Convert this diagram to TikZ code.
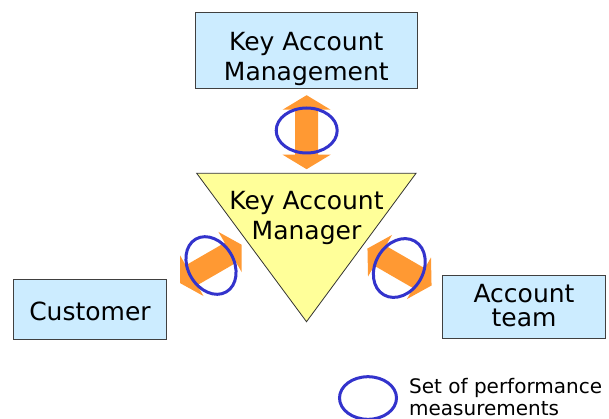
\documentclass[tikz,border=0pt]{standalone}
\usepackage{fontspec}
\setmainfont{DejaVu Sans}
\definecolor{boxblue}{HTML}{CCECFF}
\definecolor{mgryellow}{HTML}{FFFF99}
\definecolor{arroworange}{HTML}{FF9933}
\definecolor{measblue}{HTML}{3333CC}
\begin{document}
\begin{tikzpicture}[x=1pt,y=-1pt,
  box/.style={draw=black!75, line width=0.9pt, fill=boxblue, inner sep=0pt},
  bigtext/.style={inner sep=0pt, align=center, font=\fontsize{25}{30}\selectfont},
  meas/.style={draw=measblue, line width=3pt},
  dblarrow/.pic={
    \fill[arroworange] (0,37) -- (24,22.5) -- (11.5,22.5) -- (11.5,-22.5)
      -- (24,-22.5) -- (0,-37) -- (-24,-22.5) -- (-11.5,-22.5)
      -- (-11.5,22.5) -- (-24,22.5) -- cycle;
  }]
\useasboundingbox (0,0) rectangle (609,419);

% boxes
\node[box, minimum width=222.7pt, minimum height=76pt] (kam) at (306.3,50.3) {};
\node[bigtext] (kamtext) at (306.3,58.8) {Key Account\\Management};

\node[box, minimum width=153.4pt, minimum height=59.7pt] (cust) at (90,309.2) {};
\node[bigtext] (custtext) at (90,311) {Customer};

\node[box, minimum width=163.4pt, minimum height=63.3pt] (team) at (524,306.7) {};
\node[bigtext, font=\fontsize{25}{24.4}\selectfont] (teamtext) at (524,305.6) {Account\\team};

% Key Account Manager triangle
\coordinate (tl) at (196.7,173.3);
\coordinate (tr) at (416,173.3);
\coordinate (tb) at (306.5,321.7);
\draw[fill=mgryellow, draw=black!80, line width=0.8pt] (tl) -- (tr) -- (tb) -- cycle;
\node[bigtext] (mgr) at (306.5,218.3) {Key Account\\Manager};

% double arrows with measurement sets
\pic at (306.6,132.2) {dblarrow};
\draw[meas] (306.7,130.5) ellipse [x radius=30.5pt, y radius=22.5pt];

\begin{scope}
  \clip (180,200) rectangle (241.7,320);
  \pic[rotate=-60] at (211,264) {dblarrow};
\end{scope}
\draw[meas, rotate around={-60:(211,265.5)}] (211,265.5) ellipse [x radius=30.5pt, y radius=23pt];

\begin{scope}
  \clip (367.3,200) rectangle (431.7,320);
  \pic[rotate=60] at (399.5,267) {dblarrow};
\end{scope}
\draw[meas, rotate around={60:(399.3,268)}] (399.3,268) ellipse [x radius=31pt, y radius=24pt];

% legend
\draw[meas] (368,398) ellipse [x radius=28.5pt, y radius=21.3pt];
\node[anchor=west, inner sep=0pt, align=left, font=\fontsize{20}{22}\selectfont] (legend) at (409,396.6) {Set of performance\\measurements};
\end{tikzpicture}
\end{document}
